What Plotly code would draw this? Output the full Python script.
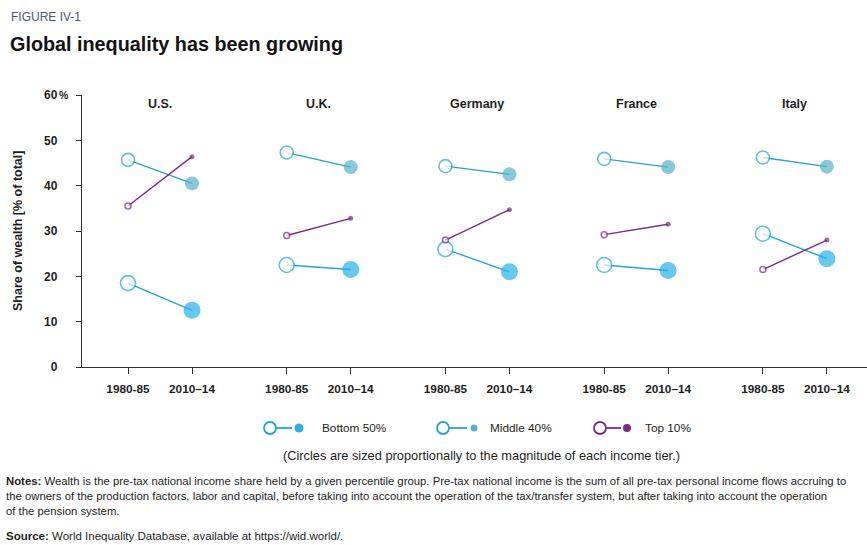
import plotly.graph_objects as go

countries = ["U.S.", "U.K.", "Germany", "France", "Italy"]
periods = ["1980-85", "2010–14"]
bottom50 = [[18.5, 12.5], [22.5, 21.5], [26.0, 21.0], [22.5, 21.3], [29.4, 23.9]]
middle40 = [[45.7, 40.5], [47.3, 44.1], [44.3, 42.5], [45.9, 44.1], [46.2, 44.2]]
top10 = [[35.5, 46.4], [29.0, 32.8], [28.0, 34.7], [29.2, 31.5], [21.5, 28.0]]
yticks = [0, 10, 20, 30, 40, 50, 60]
yticklabels = ["0", "10", "20", "30", "40", "50", "60"]

GROUP_STEP = 2.48
def xpos(i, j):
    return i * GROUP_STEP + j

# name, values, line colour, fill colour, open size, filled size, line width
tiers = [
    ("Bottom 50%", bottom50, "#1ba8df", "#26b1e8", 15, 17, 1.6),
    ("Middle 40%", middle40, "#29a3cb", "#55b1c9", 13, 14, 1.6),
    ("Top 10%", top10, "#7d2a88", "#7d2a88", 6, 5, 1.5),
]

fig = go.Figure()
for name, vals, lc, fc, s0, s1, lw in tiers:
    xs, ys, mcol, mline, msize, mlw = [], [], [], [], [], []
    for i, pair in enumerate(vals):
        for j, v in enumerate(pair):
            xs.append(xpos(i, j)); ys.append(v)
            mcol.append("white" if j == 0 else fc)
            mline.append(lc if j == 0 else fc)
            msize.append(s0 if j == 0 else s1)
            mlw.append(lw if j == 0 else 0)
        xs.append(None); ys.append(None); mcol.append("white"); mline.append(lc)
        msize.append(s0); mlw.append(0)
    fig.add_trace(go.Scatter(
        x=xs, y=ys, mode="lines+markers", name=name, showlegend=False,
        line=dict(color=lc, width=1.4),
        marker=dict(size=msize, color=mcol, line=dict(color=mline, width=mlw)),
        connectgaps=False, hoverinfo="skip"))

tickvals = [xpos(i, j) for i in range(len(countries)) for j in range(2)]
ticktext = [periods[j] for i in range(len(countries)) for j in range(2)]

W, H = 867, 545
L, R, T, B = 82, 0, 95, 178
pw, ph = W - L - R, H - T - B
def px(x): return (x - L) / pw
def py(y): return (H - B - y) / ph

dark = "#1e1e1e"
font = "Liberation Sans"
ann = []
for i, c in enumerate(countries):
    ann.append(dict(x=xpos(i, 0.5), xref="x", y=py(104), yref="paper", text="<b>%s</b>" % c,
                    xanchor="center", yanchor="middle",
                    showarrow=False, font=dict(size=12.5, color=dark, family=font)))
ann.append(dict(x=px(9), y=py(17), xref="paper", yref="paper", xanchor="left", yanchor="middle",
                text="FIGURE IV-1", showarrow=False, font=dict(size=12, color="#4a5876", family=font)))
ann.append(dict(x=px(8), y=py(44), xref="paper", yref="paper", xanchor="left", yanchor="middle",
                text="<b>Global inequality has been growing</b>", showarrow=False,
                font=dict(size=19.8, color="#111111", family=font)))
ann.append(dict(x=px(18), y=py(231), xref="paper", yref="paper", textangle=-90,
                xanchor="center", yanchor="middle",
                text="<b>Share of wealth [% of total]</b>", showarrow=False,
                font=dict(size=12.5, color=dark, family=font)))
ann.append(dict(x=px(71), y=60, xref="paper", yref="y", xanchor="right", yanchor="middle",
                text="<b>%</b>", showarrow=False, font=dict(size=10.5, color=dark, family=font)))
ann.append(dict(x=px(481), y=py(455), xref="paper", yref="paper", xanchor="center", yanchor="middle",
                text="(Circles are sized proportionally to the magnitude of each income tier.)",
                showarrow=False, font=dict(size=12.8, color=dark, family=font)))

legend_items = [
    ("Bottom 50%", 270, 276, 292, 299, 4.5, "#1ba8df", "#26b1e8", 320),
    ("Middle 40%", 443, 449, 467, 474, 3.5, "#29a3cb", "#55b1c9", 488),
    ("Top 10%", 600, 606, 621, 627, 4.0, "#7d2a88", "#7d2a88", 643),
]
shapes = []
ly = py(428)
for name, cx, l0, l1, dx, dr, lc, fc, tx in legend_items:
    shapes.append(dict(type="line", xref="paper", yref="paper", x0=px(l0), x1=px(l1), y0=ly, y1=ly,
                       line=dict(color=lc, width=1.8)))
    shapes.append(dict(type="circle", xref="paper", yref="paper", xsizemode="pixel", ysizemode="pixel",
                       xanchor=px(cx), yanchor=ly, x0=-6, x1=6, y0=-6, y1=6,
                       line=dict(color=lc, width=1.8), fillcolor="white"))
    shapes.append(dict(type="circle", xref="paper", yref="paper", xsizemode="pixel", ysizemode="pixel",
                       xanchor=px(dx), yanchor=ly, x0=-dr, x1=dr, y0=-dr, y1=dr,
                       line=dict(color=fc, width=0), fillcolor=fc))
    ann.append(dict(x=px(tx), y=ly, xref="paper", yref="paper", xanchor="left", yanchor="middle",
                    text=name, showarrow=False, font=dict(size=11.8, color=dark, family=font)))

notes = ("<b>Notes:</b> Wealth is the pre-tax national income share held by a given percentile group. "
         "Pre-tax national income is the sum of all pre-tax personal income flows accruing to<br>"
         "the owners of the production factors, labor and capital, before taking into account the operation "
         "of the tax/transfer system, but after taking into account the operation<br>"
         "of the pension system.")
nfont = "Liberation Sans"
ann.append(dict(x=px(4), y=py(473), xref="paper", yref="paper", xanchor="left", yanchor="top",
                align="left", text=notes, showarrow=False,
                font=dict(size=11.35, color=dark, family=nfont)))
ann.append(dict(x=px(4), y=py(536), xref="paper", yref="paper", xanchor="left", yanchor="middle",
                align="left", text="<b>Source:</b> World Inequality Database, available at https://wid.world/.",
                showarrow=False, font=dict(size=11.5, color=dark, family=nfont)))

fig.update_layout(
    width=W, height=H, margin=dict(l=L, r=R, t=T, b=B),
    paper_bgcolor="white", plot_bgcolor="white",
    annotations=ann, shapes=shapes,
    font=dict(family=font, color=dark),
)
fig.update_xaxes(range=[(L - 128) / 64, (W - 128) / 64], tickvals=tickvals,
                 ticktext=["<b>%s</b>" % t for t in ticktext],
                 showgrid=False, zeroline=False, showline=True, linecolor="#333", linewidth=1.3,
                 ticks="outside", ticklen=6, tickwidth=1.4, tickcolor="#333", ticklabelstandoff=5,
                 tickfont=dict(size=11.8, color=dark, family=font))
fig.update_yaxes(range=[0, 60], tickvals=yticks, ticktext=["<b>%s</b>" % t for t in yticklabels],
                 showgrid=False, zeroline=False, showline=True, linecolor="#333", linewidth=1.3,
                 ticks="outside", ticklen=5, tickwidth=1.4, tickcolor="#333", ticklabelstandoff=16,
                 tickfont=dict(size=12, color=dark, family=font))

fig.write_html("out.html")
